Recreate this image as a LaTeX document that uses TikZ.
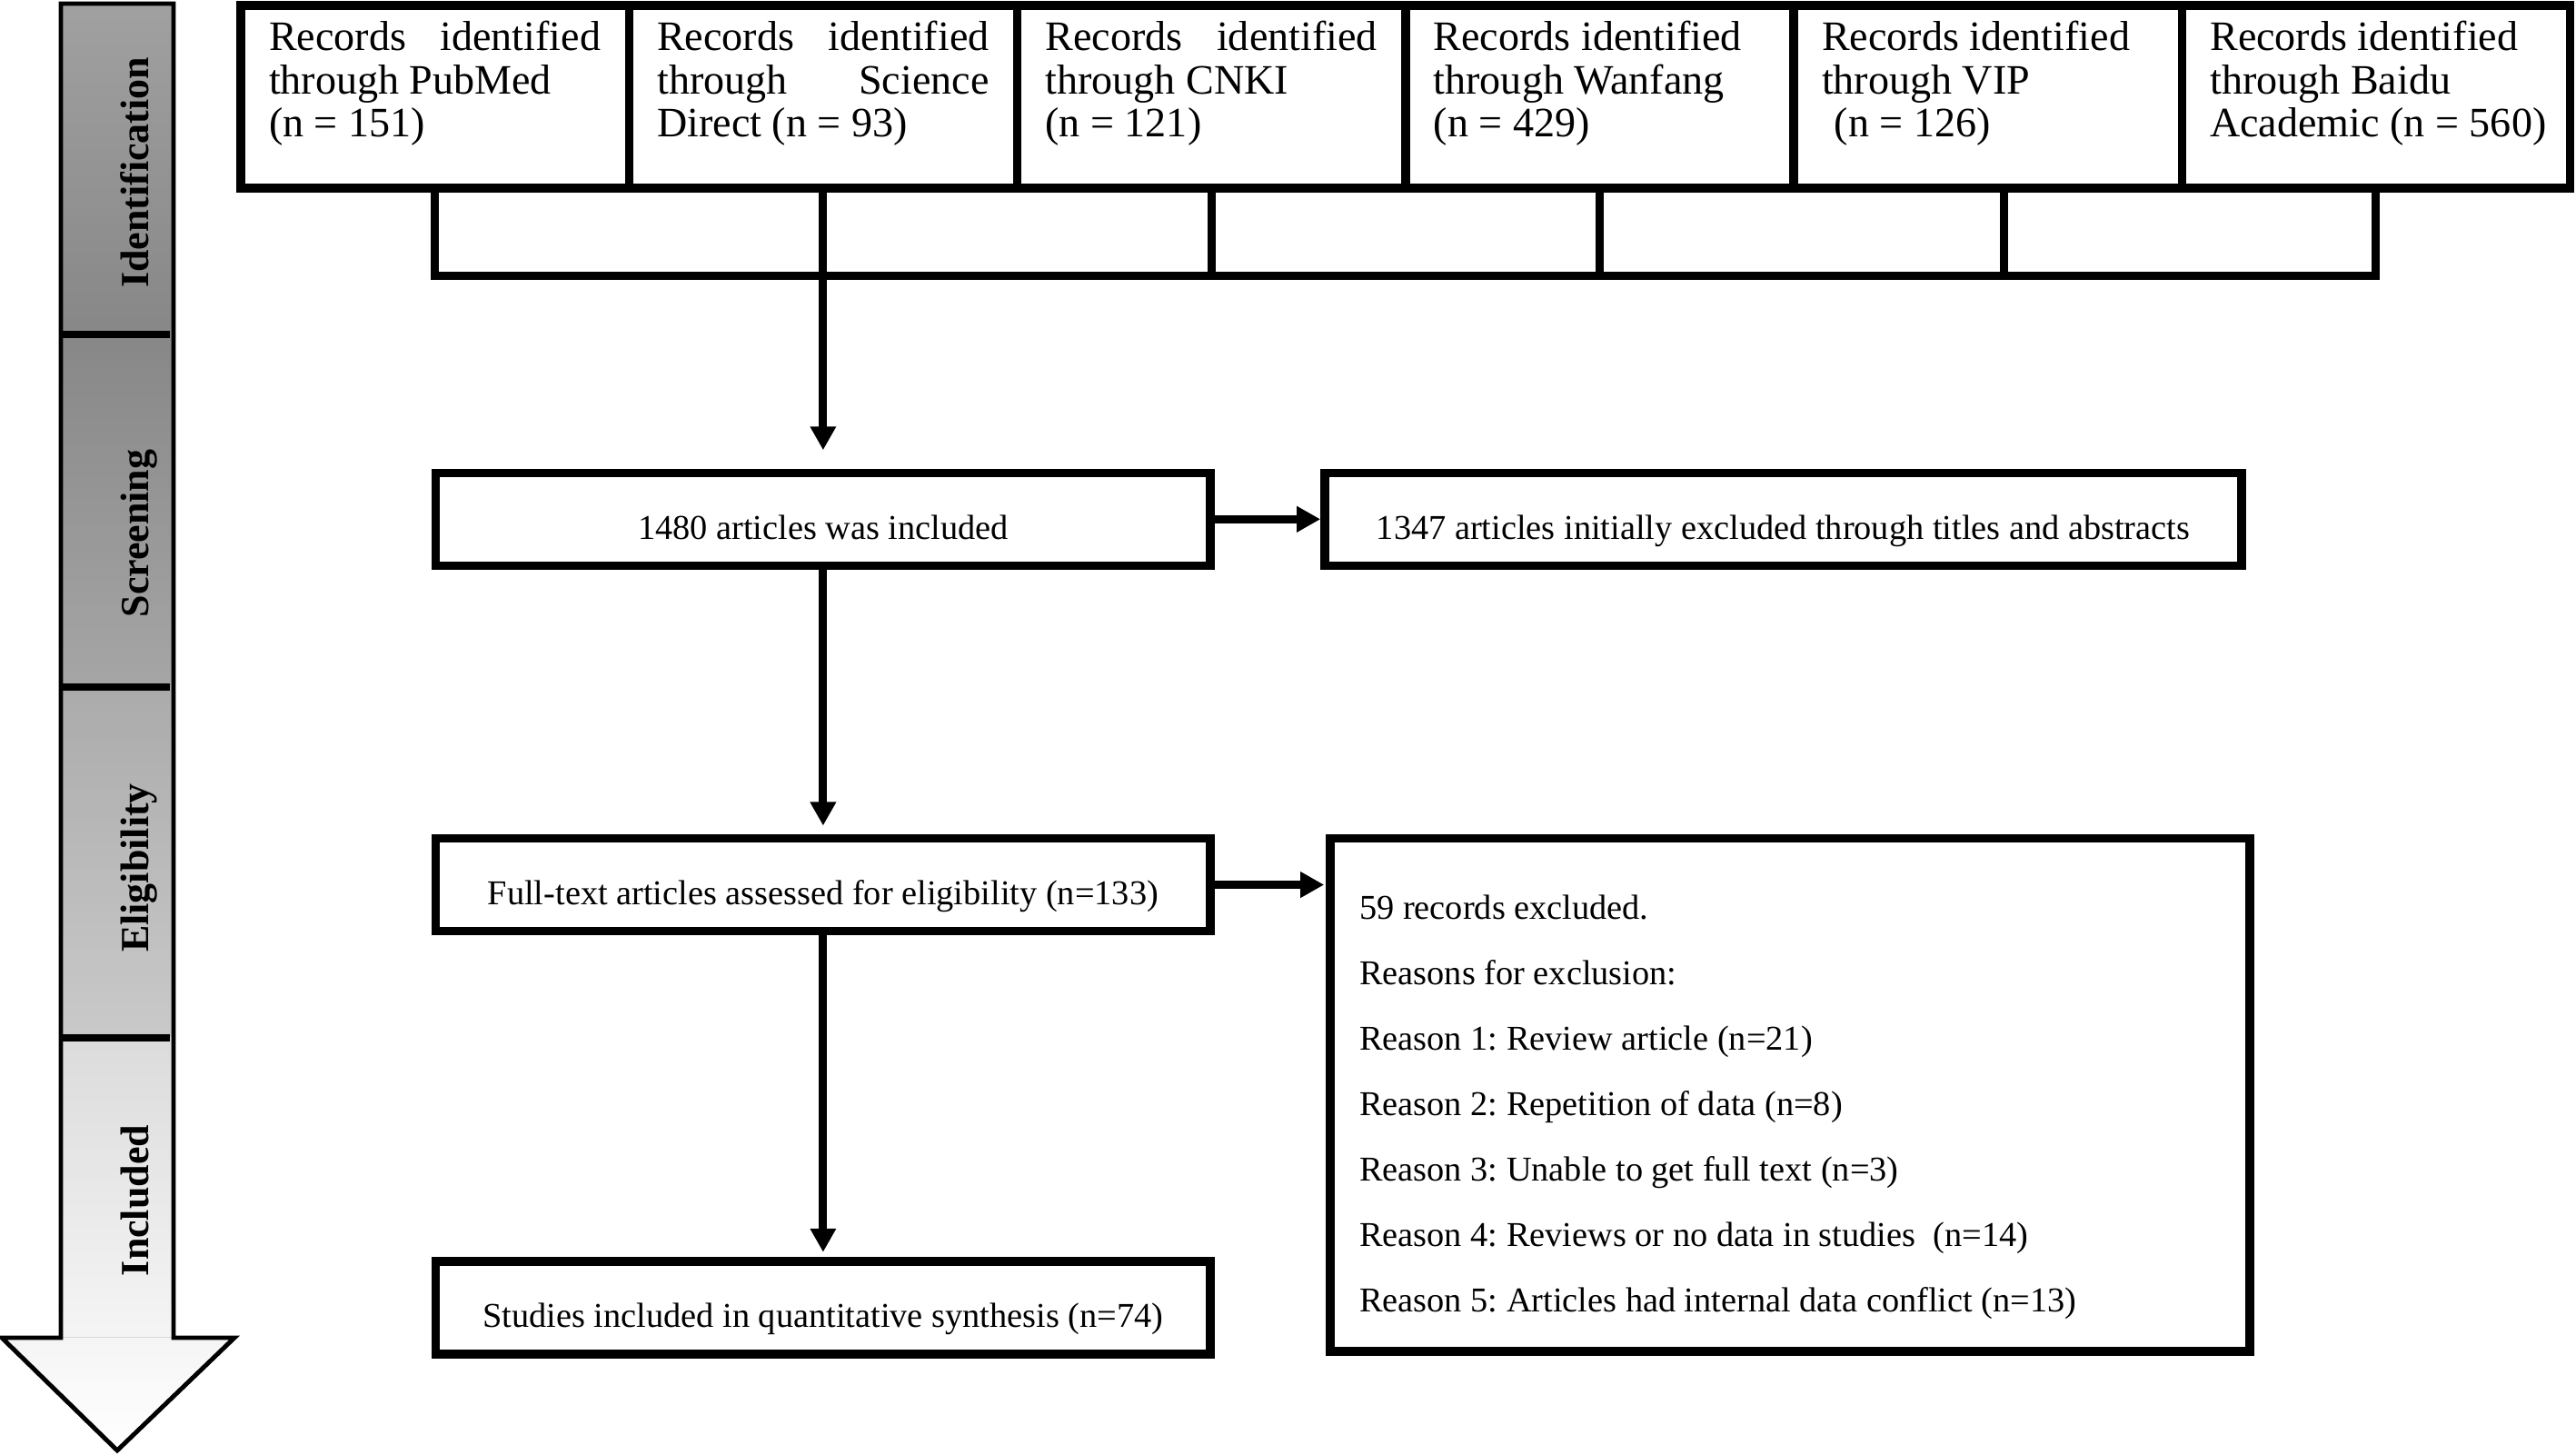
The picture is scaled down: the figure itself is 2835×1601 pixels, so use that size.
\documentclass[tikz,border=0pt]{standalone}
\usepackage{fontspec}
\setmainfont{Liberation Serif}
\frenchspacing
\usetikzlibrary{
  arrows.meta,
  positioning,  % Function "of" (e.g. [right=of x])
  calc,         % Calculations $...$
}
\newcommand{\jl}[1]{\makebox[3.65cm][s]{#1}}  % Justified line in a source box
\def\mylw{2.7pt}
\def\mybus{96}
\tikzset{
  >={Triangle[length=7.4pt,width=7.7pt]},
  conn/.style={
    line width=2.5pt
  },
  my box/.style={
    draw,
    rectangle,
    line width=\mylw,
    inner sep=0mm,
    outer sep=0mm
  },
  src box/.style={
    my box,
    minimum width=4.27cm,
    minimum height=2.01cm,
    font=\fontsize{13.1}{13.5}\selectfont
  },
  flow box/.style={
    my box,
    minimum width=8.52cm,
    minimum height=1.02cm,
    text height=0.44cm,
    text depth=0pt,
    font=\fontsize{10.9}{13}\selectfont
  },
  side box/.style={
    flow box,
    minimum width=10.08cm
  },
  stage/.style={
    rotate=90,
    anchor=base,
    font=\bfseries\fontsize{12.5}{14}\selectfont
  },
  stage bar/.style={
    line width=1.4pt,
    line join=miter
  }
}
\begin{document}
\begin{tikzpicture}[x=0.01cm,y=-0.01cm]
\useasboundingbox (0,0) rectangle (2835,1601);
% Stages arrow
\fill[top color=black!37,bottom color=black!47] (67,4) rectangle (191,368);
\fill[top color=black!47,bottom color=black!35] (67,368) rectangle (191,756);
\fill[top color=black!33,bottom color=black!21] (67,756) rectangle (191,1142);
\fill[top color=black!14,bottom color=black!4] (67,1142) rectangle (191,1472);
\fill[top color=black!4,bottom color=white] (2,1472) -- (258,1472) -- (129,1596) -- cycle;
\draw[stage bar] (67,4) -- (191,4) -- (191,1472) -- (258,1472) -- (129,1596)
  -- (2,1472) -- (67,1472) -- cycle;
\foreach \y in {368,756,1142}
  \draw[line width=2.1pt] (67,\y) -- (187,\y);
\node[stage] (st1) at (163,190)  {Identification};
\node[stage] (st2) at (163,587)  {Screening};
\node[stage] (st3) at (163,955)  {Eligibility};
\node[stage] (st4) at (163,1321) {Included};
% Sources
\node[src box,anchor=north west] (id1) at (265,6)
  {\parbox[c][1.66cm][t]{3.65cm}{\jl{Records identified}\\ through PubMed\\ (n = 151)}};
\node[src box,right=0mm of id1] (id2)
  {\parbox[c][1.66cm][t]{3.65cm}{\jl{Records identified}\\ \jl{through Science}\\ Direct (n = 93)}};
\node[src box,right=0mm of id2] (id3)
  {\parbox[c][1.66cm][t]{3.65cm}{\jl{Records identified}\\ through CNKI\\ (n = 121)}};
\node[src box,right=0mm of id3] (id4)
  {\parbox[c][1.66cm][t]{3.65cm}{Records identified\\ through Wanfang\\ (n = 429)}};
\node[src box,right=0mm of id4] (id5)
  {\parbox[c][1.66cm][t]{3.65cm}{Records identified\\ through VIP\\ \hspace*{0.3em}(n = 126)}};
\node[src box,right=0mm of id5] (id6)
  {\parbox[c][1.66cm][t]{3.65cm}{Records identified\\ through Baidu\\ \mbox{Academic (n = 560)}}};
\coordinate (bus) at ($(id2.south)+(0,\mybus)$);
\coordinate (id5b) at ($(id5.south)+(18,0)$);
\draw[conn] (id1.south) -- (id1.south |- bus) -- (id6.south |- bus) -- (id6.south);
\foreach \i in {3,4}
  \draw[conn] (id\i.south) -- (id\i.south |- bus);
\draw[conn] (id5b) -- (id5b |- bus);
% Flow
\node[flow box,below=3.13cm of id2] (scr) {1480 articles was included};
\node[side box,right=1.26cm of scr] (scrx)
  {1347 articles initially excluded through titles and abstracts};
\node[flow box,below=3.00cm of scr] (elig)
  {Full-text articles assessed for eligibility (n=133)};
\node[flow box,below=3.63cm of elig] (incl)
  {Studies included in quantitative synthesis (n=74)};
\node[my box,minimum width=10.11cm,minimum height=5.64cm,
      right=1.32cm of elig.north east,anchor=north west] (eligx)
  {\parbox[c][4.86cm][b]{9.47cm}{\fontsize{10.9}{20.5}\selectfont
    59 records excluded.\\
    Reasons for exclusion:\\
    Reason 1: Review article (n=21)\\
    Reason 2: Repetition of data (n=8)\\
    Reason 3: Unable to get full text (n=3)\\
    Reason 4: Reviews or no data in studies~ (n=14)\\
    Reason 5: Articles had internal data conflict (n=13)}};
\draw[conn,->,shorten >=0.25cm] (id2.south) -- (scr.north);
\draw[conn,->,shorten >=0.14cm] (scr) -- (elig);
\draw[conn,->,shorten >=0.10cm] (elig) -- (incl);
\draw[conn,->,shorten >=0.05cm] (scr) -- (scrx);
\draw[conn,->,shorten >=0.07cm] (elig.east) -- (elig.east -| eligx.west);
\end{tikzpicture}
\end{document}
